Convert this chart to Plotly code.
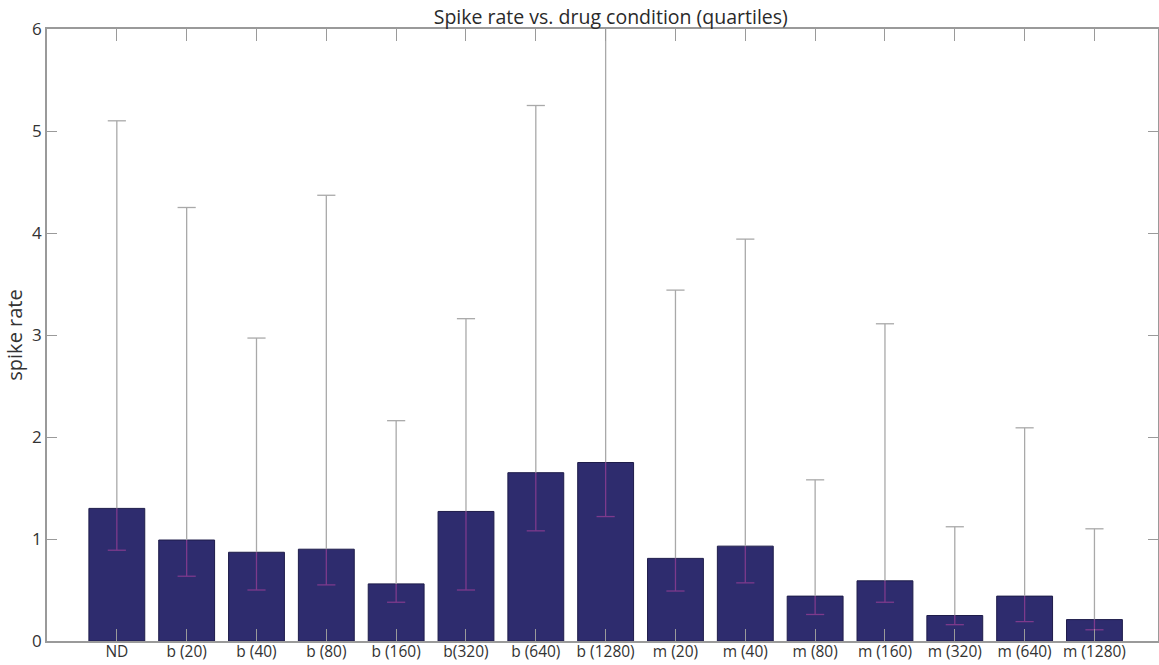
import plotly.graph_objects as go

categories = ["ND", "b (20)", "b (40)", "b (80)", "b (160)", "b(320)", "b (640)", "b (1280)",
              "m (20)", "m (40)", "m (80)", "m (160)", "m (320)", "m (640)", "m (1280)"]
median_rate = [1.30, 0.99, 0.87, 0.90, 0.56, 1.27, 1.65, 1.75, 0.81, 0.93, 0.44, 0.59, 0.25, 0.44, 0.21]
lower_quartile = [0.89, 0.635, 0.50, 0.55, 0.38, 0.50, 1.08, 1.22, 0.49, 0.57, 0.26, 0.38, 0.16, 0.19, 0.11]
upper_quartile = [5.10, 4.25, 2.97, 4.37, 2.16, 3.16, 5.25, 6.50, 3.44, 3.94, 1.58, 3.11, 1.12, 2.09, 1.10]
y_ticks = [0, 1, 2, 3, 4, 5, 6]

xpos = list(range(1, len(categories) + 1))
cap = 0.13

def segs(lo_list, hi_list, cap_vals):
    xs, ys = [], []
    for x, lo, hi, c in zip(xpos, lo_list, hi_list, cap_vals):
        xs += [x, x, None, x - cap, x + cap, None]
        ys += [lo, hi, None, c, c, None]
    return xs, ys

fig = go.Figure()
fig.add_trace(go.Bar(x=xpos, y=median_rate, width=0.8,
                     marker=dict(color="#2e2c6e", line=dict(color="#1e1c4a", width=1)),
                     showlegend=False, hoverinfo="skip"))

ux, uy = segs(median_rate, upper_quartile, upper_quartile)
fig.add_trace(go.Scatter(x=ux, y=uy, mode="lines", line=dict(color="#a9a9a9", width=1.3),
                         showlegend=False, hoverinfo="skip"))
lx, ly = segs(lower_quartile, median_rate, lower_quartile)
fig.add_trace(go.Scatter(x=lx, y=ly, mode="lines", line=dict(color="#7d3a8c", width=1.3),
                         showlegend=False, hoverinfo="skip"))

axis_color = "#9a9a9a"
fig.update_layout(
    width=1159, height=665,
    margin=dict(l=47, r=1, t=29, b=23.5),
    paper_bgcolor="white", plot_bgcolor="white",
    font=dict(family="Open Sans", size=16, color="#333333"),
    title=dict(text="Spike rate vs. drug condition (quartiles)", x=0.527, xanchor="center",
               y=0.974, yanchor="middle", font=dict(size=19.5, color="#2a2a2a")),
    bargap=0.2,
)
fig.update_xaxes(range=[0, 15.91], tickmode="array", tickvals=xpos, ticktext=categories,
                 ticks="inside", ticklen=12, tickcolor=axis_color, tickwidth=1,
                 showline=True, linecolor=axis_color, linewidth=1.5, mirror="ticks",
                 showgrid=False, zeroline=False, automargin=False, ticklabelstandoff=-4,
                 tickfont=dict(size=15.5, color="#333333"))
fig.update_yaxes(range=[0, 6], tickmode="array", tickvals=y_ticks,
                 ticks="inside", ticklen=10, tickcolor=axis_color, tickwidth=1,
                 showline=True, linecolor=axis_color, linewidth=1.5, mirror="ticks",
                 showgrid=False, zeroline=False, automargin=False,
                 tickfont=dict(size=17, color="#333333"),
                 title=dict(text="spike rate", font=dict(size=20, color="#333333"), standoff=4))

fig.write_html("out.html")
